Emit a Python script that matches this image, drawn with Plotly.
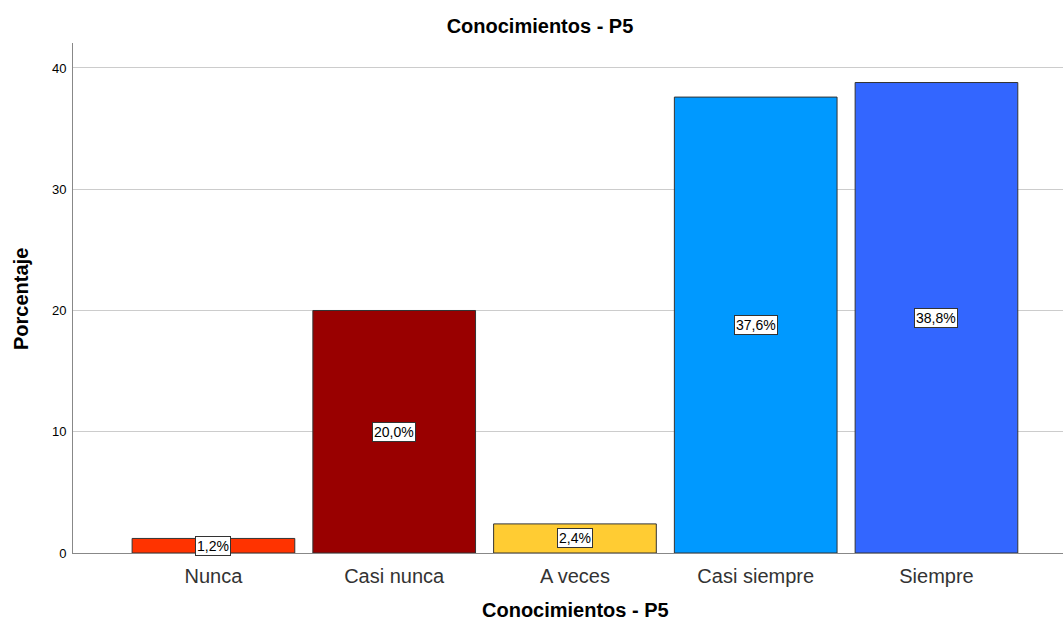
import plotly.graph_objects as go

categories = ["Nunca", "Casi nunca", "A veces", "Casi siempre", "Siempre"]
percentages = [1.2, 20.0, 2.4, 37.6, 38.8]
bar_colors = ["#FF3300", "#990000", "#FFCC33", "#0099FF", "#3366FF"]
value_labels = ["1,2%", "20,0%", "2,4%", "37,6%", "38,8%"]
y_ticks = [0, 10, 20, 30, 40]

FONT = "Liberation Sans, Arial, sans-serif"

fig = go.Figure()
fig.add_trace(go.Bar(
    x=list(range(len(categories))),
    y=percentages,
    width=0.9,
    marker=dict(color=bar_colors, line=dict(color="#333333", width=1)),
    hoverinfo="skip",
))

# Value boxes centred vertically inside each bar
for i, (v, lab) in enumerate(zip(percentages, value_labels)):
    fig.add_annotation(
        x=i, y=v / 2, text=lab, showarrow=False,
        font=dict(family=FONT, size=14, color="#000000"),
        bgcolor="#FFFFFF", bordercolor="#333333", borderwidth=1, borderpad=1,
    )

# Axis titles
fig.add_annotation(
    text="<b>Conocimientos - P5</b>", xref="paper", yref="paper",
    x=(575 - 73) / 990, y=-(610 - 553) / 510, xanchor="center", yanchor="middle",
    showarrow=False, font=dict(family=FONT, size=20, color="#000000"),
)
fig.add_annotation(
    text="<b>Porcentaje</b>", xref="paper", yref="paper",
    x=-(73 - 21) / 990, y=(553 - 299) / 510, xanchor="center", yanchor="middle",
    textangle=-90, showarrow=False,
    font=dict(family=FONT, size=20, color="#000000"),
)

fig.update_layout(
    width=1063, height=622,
    margin=dict(l=73, r=0, t=43, b=69),
    paper_bgcolor="white", plot_bgcolor="white",
    showlegend=False,
    font=dict(family=FONT),
    title=dict(text="<b>Conocimientos - P5</b>", x=540 / 1063, xanchor="center",
               y=1 - 26 / 622, yanchor="middle",
               font=dict(family=FONT, size=20, color="#000000")),
)

fig.update_xaxes(
    tickmode="array", tickvals=list(range(len(categories))), ticktext=categories,
    range=[-0.777, 4.70],
    tickfont=dict(family=FONT, size=20, color="#333333"),
    showgrid=False, showline=True, linecolor="#888888", linewidth=1,
    ticks="outside", ticklen=5, tickcolor="rgba(0,0,0,0)", zeroline=False,
)

fig.update_yaxes(
    range=[0, 42.06], tickvals=y_ticks,
    tickfont=dict(family=FONT, size=13, color="#000000"),
    showgrid=True, gridcolor="#CCCCCC", gridwidth=1,
    showline=True, linecolor="#888888", linewidth=1,
    zeroline=False, ticks="outside", ticklen=3, tickcolor="rgba(0,0,0,0)",
)

fig.write_html("out.html")
